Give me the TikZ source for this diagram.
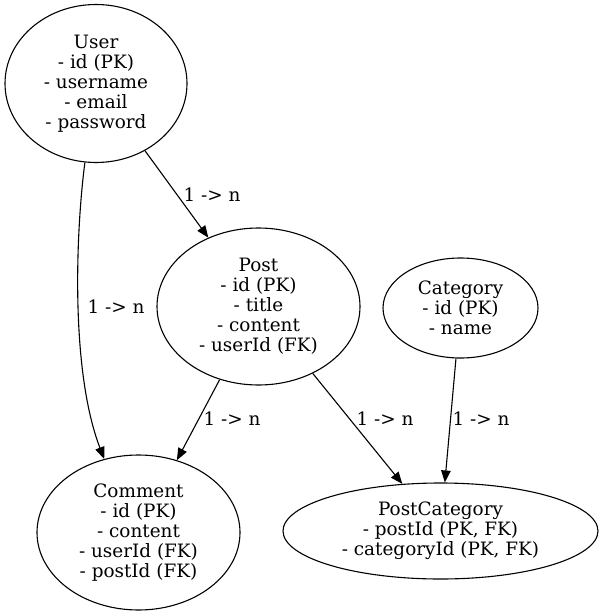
\documentclass[tikz,border=0pt]{standalone}
\usepackage{fontspec}
\setmainfont{DejaVu Serif}
\usetikzlibrary{shapes.geometric,arrows.meta}
\begin{document}
\begin{tikzpicture}[x=1pt,y=1pt,
  entity/.style={ellipse,draw,line width=1.1pt,inner sep=0pt,align=center,
    font=\fontsize{18.4}{20}\selectfont},
  lbl/.style={inner sep=0pt,font=\fontsize{18.4}{20}\selectfont},
  rel/.style={line width=1.1pt,-{Triangle[length=12pt,width=9.5pt]}}]
\useasboundingbox (0,0) rectangle (604,-616);
\node[entity,minimum width=182pt,minimum height=158pt] (user) at (96,-83.5)
  {User\\- id (PK)\\- username\\- email\\- password};
\node[entity,minimum width=203pt,minimum height=157pt] (post) at (258.5,-306.5)
  {Post\\- id (PK)\\- title\\- content\\- userId (FK)};
\node[entity,minimum width=155pt,minimum height=100pt] (category) at (460.5,-308)
  {Category\\- id (PK)\\- name};
\node[entity,minimum width=203pt,minimum height=155pt] (comment) at (138.5,-532.5)
  {Comment\\- id (PK)\\- content\\- userId (FK)\\- postId (FK)};
\node[entity,minimum width=315pt,minimum height=96pt] (postcat) at (440.5,-531)
  {PostCategory\\- postId (PK, FK)\\- categoryId (PK, FK)};
\draw[rel] (user) -- (post);
\draw[rel] (user.262) .. controls (76,-230) and (70,-370) .. (comment.115);
\draw[rel] (post) -- (comment);
\draw[rel] (post) -- (postcat);
\draw[rel] (category) -- (postcat);
\node[lbl] (l1) at (212,-195) {1 -> n};
\node[lbl] (l2) at (116,-307) {1 -> n};
\node[lbl] (l3) at (232,-419) {1 -> n};
\node[lbl] (l4) at (385,-419) {1 -> n};
\node[lbl] (l5) at (481,-419) {1 -> n};
\end{tikzpicture}
\end{document}
